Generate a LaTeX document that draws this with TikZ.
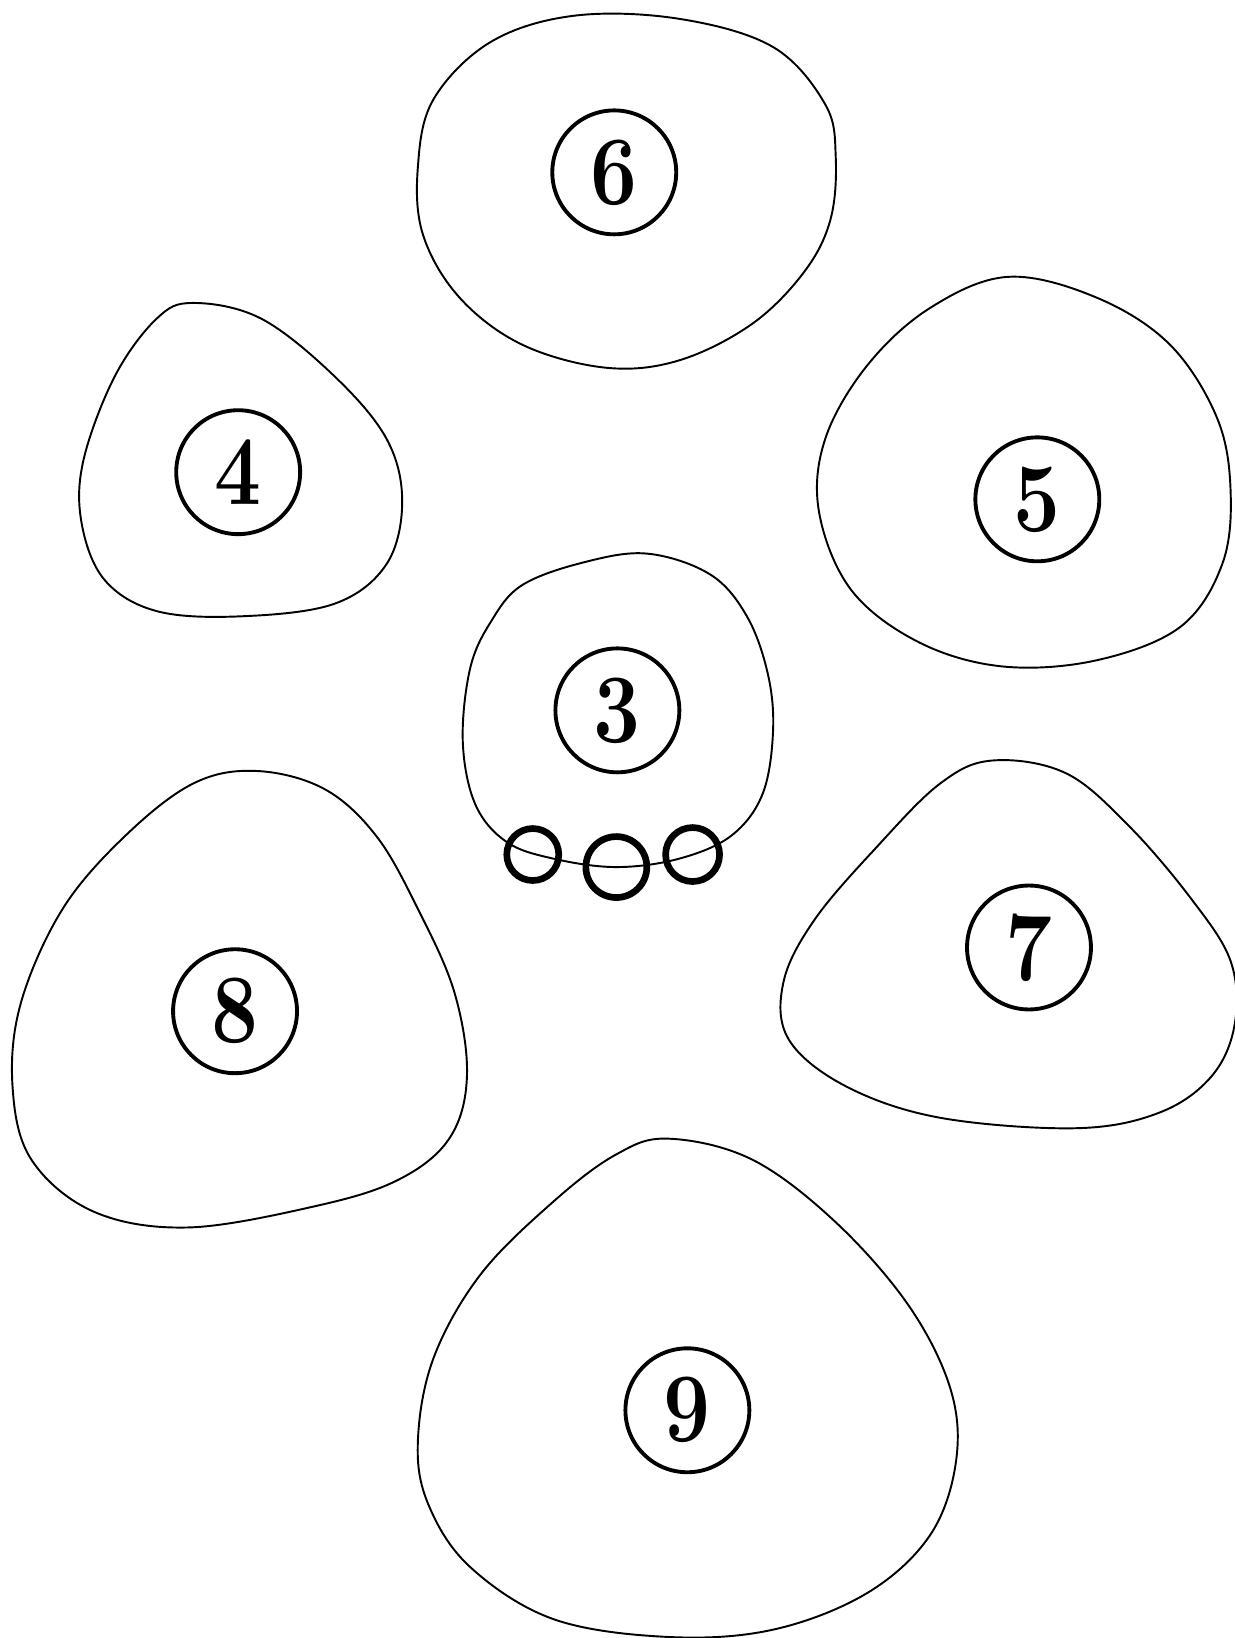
\documentclass[tikz,border=0pt]{standalone}
\usepackage{tikz}

\tikzset{
  blob/.style={line width=0.55pt, line join=round},
  numcirc/.style={circle, draw, line width=1.1pt, minimum size=1.24cm, inner sep=0pt,
    font=\fontsize{25}{25}\selectfont\bfseries},
  bead/.style={circle, draw, line width=1.9pt, inner sep=0pt}
}
\newcommand{\tallnum}[1]{\scalebox{0.95}[1.12]{#1}}

\begin{document}
\begin{tikzpicture}[x=0.010448cm, y=-0.010448cm]
  \useasboundingbox (0,0) rectangle (1182,1568);
  % blobs
  \draw[blob] plot[smooth cycle, tension=0.6] coordinates {(470,40) (550,15) (650,18) (740,45) (790,100)
    (800,150) (795,210) (770,260) (720,310) (650,345) (580,352) (500,330) (440,285) (405,225)
    (400,160) (415,95)};
  \draw[blob] plot[smooth cycle, tension=0.6] coordinates {(185,290) (250,305) (320,360) (370,420)
    (385,480) (370,540) (320,578) (230,590) (150,585) (100,555) (78,500) (80,440) (110,360) (150,305)};
  \draw[blob] plot[smooth cycle, tension=0.6] coordinates {(965,265) (1050,285) (1120,330) (1165,400)
    (1178,470) (1170,540) (1130,600) (1050,632) (960,638) (880,615) (815,565) (784,490) (790,420)
    (830,350) (890,295)};
  \draw[blob] plot[smooth cycle, tension=0.6] coordinates {(500,560) (560,538) (620,530) (680,550)
    (715,590) (735,645) (740,700) (730,760) (700,800) (650,822) (590,830) (530,822) (485,806)
    (455,770) (443,710) (450,640) (470,595)};
  \draw[blob] plot[smooth cycle, tension=0.6] coordinates {(245,738) (310,755) (360,800) (400,870)
    (435,950) (447,1030) (430,1090) (380,1130) (300,1155) (180,1175) (90,1160) (30,1110) (12,1040)
    (20,960) (60,870) (120,800) (185,750)};
  \draw[blob] plot[smooth cycle, tension=0.6] coordinates {(950,728) (1020,740) (1080,790) (1140,860)
    (1178,920) (1182,980) (1160,1030) (1110,1065) (1030,1080) (900,1070) (810,1040) (755,995)
    (750,940) (780,880) (840,810) (900,750)};
  \draw[blob] plot[smooth cycle, tension=0.6] coordinates {(640,1090) (720,1110) (800,1170) (870,1250)
    (910,1330) (915,1400) (890,1470) (830,1525) (740,1560) (640,1567) (530,1550) (450,1500)
    (410,1440) (400,1380) (415,1300) (460,1220) (530,1150) (590,1105)};
  % numbers
  \foreach \n/\x/\y in {6/588/165, 4/228/452, 5/993/478, 3/591/680, 8/225/968, 7/985/907, 9/658/1350}
    \node[numcirc] (n\n) at (\x,\y) {\tallnum{\n}};
  % beads under 3
  \node[bead, minimum size=0.52cm] (b1) at (510,818) {};
  \node[bead, minimum size=0.61cm] (b2) at (590,830) {};
  \node[bead, minimum size=0.54cm] (b3) at (663,818) {};
\end{tikzpicture}
\end{document}
